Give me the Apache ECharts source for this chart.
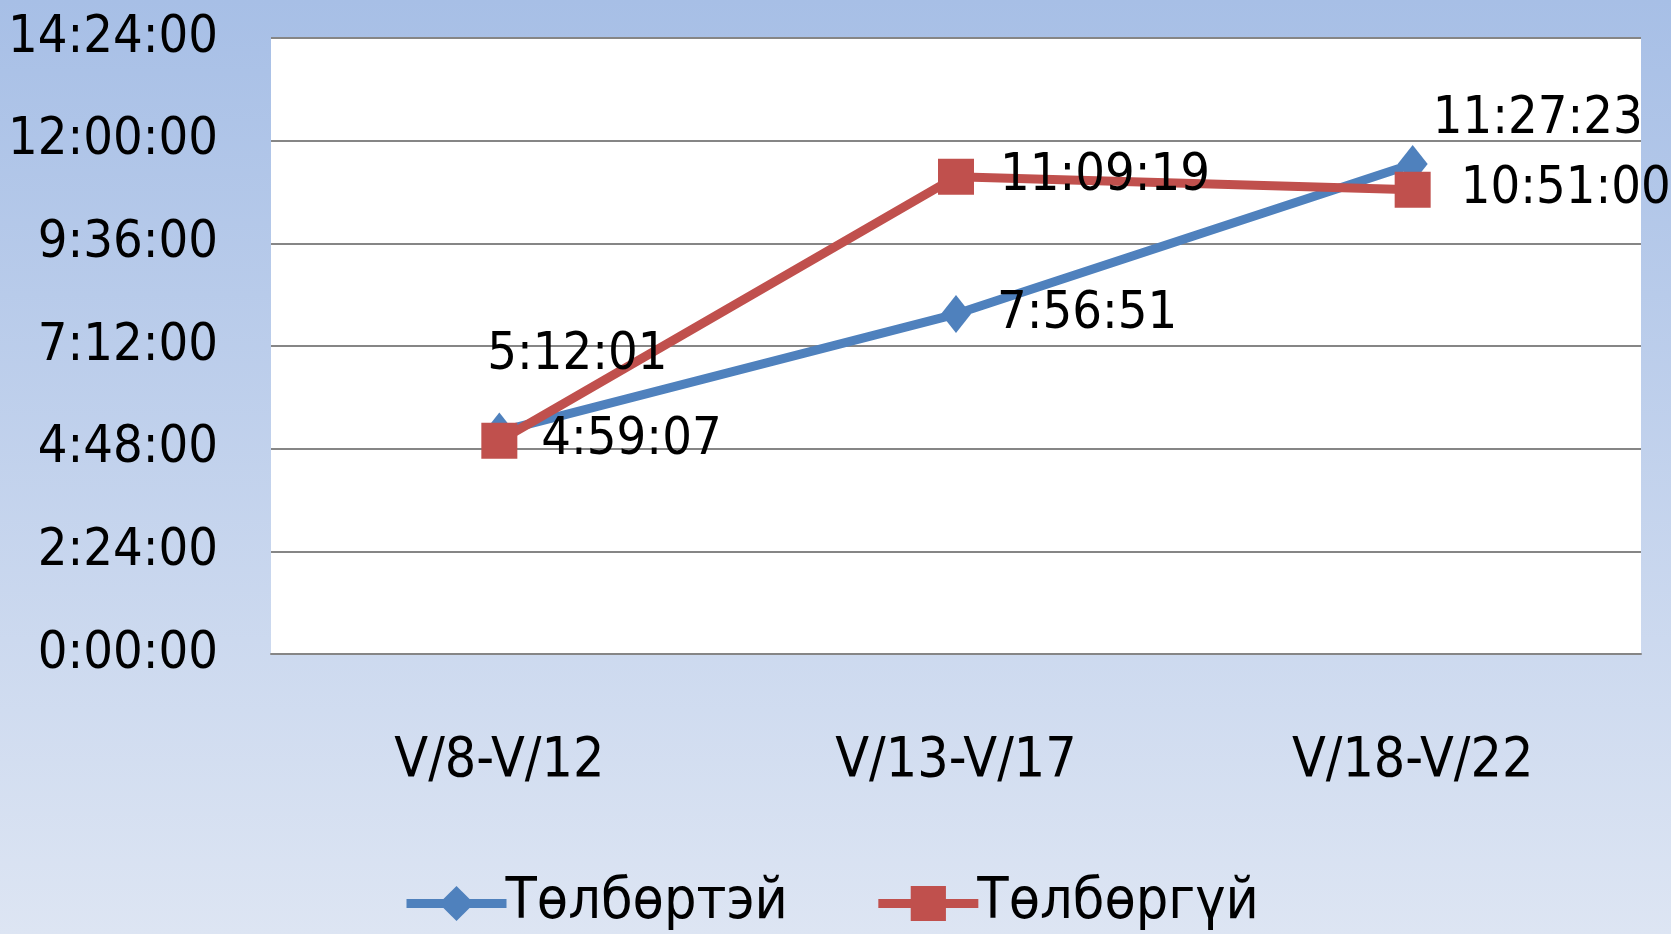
<!DOCTYPE html>
<html>
<head>
<meta charset="utf-8">
<script src="https://cdn.jsdelivr.net/npm/echarts@6/dist/echarts.min.js"></script>
<style>
  html, body { margin: 0; padding: 0; }
  #chart { width: 1671px; height: 934px; }
</style>
</head>
<body>
<div id="chart"></div>
<script>
const categories = ['V/8-V/12', 'V/13-V/17', 'V/18-V/22']
const seriesNames = ['Төлбөртэй', 'Төлбөргүй']
// durations as h:mm:ss
const paidTimes = ['5:12:01', '7:56:51', '11:27:23']
const freeTimes = ['4:59:07', '11:09:19', '10:51:00']
const yTicks = ['0:00:00', '2:24:00', '4:48:00', '7:12:00', '9:36:00', '12:00:00', '14:24:00']

const toSec = s => {
  const p = s.split(':').map(Number)
  return p[0] * 3600 + p[1] * 60 + p[2]
}
const fmt = v => {
  const h = Math.floor(v / 3600)
  const m = Math.floor((v % 3600) / 60)
  const s = Math.round(v % 60)
  return h + ':' + String(m).padStart(2, '0') + ':' + String(s).padStart(2, '0')
}

const FONT = 'DejaVu Sans Condensed'
const tickStep = toSec(yTicks[1])
const yMax = toSec(yTicks[yTicks.length - 1])

const labelBase = {
  show: true,
  color: '#000',
  fontFamily: FONT,
  fontSize: 52,
  formatter: p => fmt(p.value)
}

// per-point label placement, like the hand-moved labels in the original
const paidLabels = [
  { position: 'top', offset: [78, -26] },
  { position: 'right', distance: 26 },
  { position: 'top', offset: [125, 6] }
]
const freeLabels = [
  { position: 'right', distance: 24 },
  { position: 'right', distance: 26 },
  { position: 'right', distance: 30 }
]

const chart = echarts.init(document.getElementById('chart'))

chart.setOption({
  backgroundColor: new echarts.graphic.LinearGradient(0, 0, 0, 1, [
    { offset: 0, color: '#a7bfe6' },
    { offset: 1, color: '#dde5f3' }
  ]),
  animation: false,
  grid: {
    left: 271,
    right: 30,
    top: 38,
    bottom: 280,
    show: true,
    backgroundColor: '#fff',
    borderWidth: 0
  },
  legend: {
    bottom: -3,
    left: 397,
    itemWidth: 100,
    itemHeight: 44,
    itemGap: 86,
    lineStyle: { width: 9 },
    textStyle: { fontFamily: FONT, fontSize: 57, color: '#000', padding: [0, 0, 0, -6] },
    data: seriesNames
  },
  xAxis: {
    type: 'category',
    data: categories,
    axisLine: { lineStyle: { color: '#868686', width: 2 } },
    axisTick: { show: false },
    axisLabel: { margin: 80, color: '#000', fontFamily: FONT, fontSize: 55 }
  },
  yAxis: {
    type: 'value',
    min: 0,
    max: yMax,
    interval: tickStep,
    axisLine: { show: false },
    axisTick: { show: false },
    axisLabel: {
      margin: 53,
      color: '#000',
      fontFamily: FONT,
      fontSize: 52,
      formatter: v => fmt(v)
    },
    splitLine: { lineStyle: { color: '#868686', width: 2 } }
  },
  series: [
    {
      name: seriesNames[0],
      type: 'line',
      symbol: 'diamond',
      symbolSize: [30, 38],
      lineStyle: { color: '#4f81bd', width: 9 },
      itemStyle: { color: '#4f81bd' },
      label: labelBase,
      data: paidTimes.map((t, i) => ({ value: toSec(t), label: paidLabels[i] }))
    },
    {
      name: seriesNames[1],
      type: 'line',
      symbol: 'rect',
      symbolSize: 36,
      lineStyle: { color: '#c0504d', width: 9 },
      itemStyle: { color: '#c0504d' },
      label: labelBase,
      data: freeTimes.map((t, i) => ({ value: toSec(t), label: freeLabels[i] }))
    }
  ]
})

window.addEventListener('resize', () => chart.resize())
</script>
</body>
</html>
